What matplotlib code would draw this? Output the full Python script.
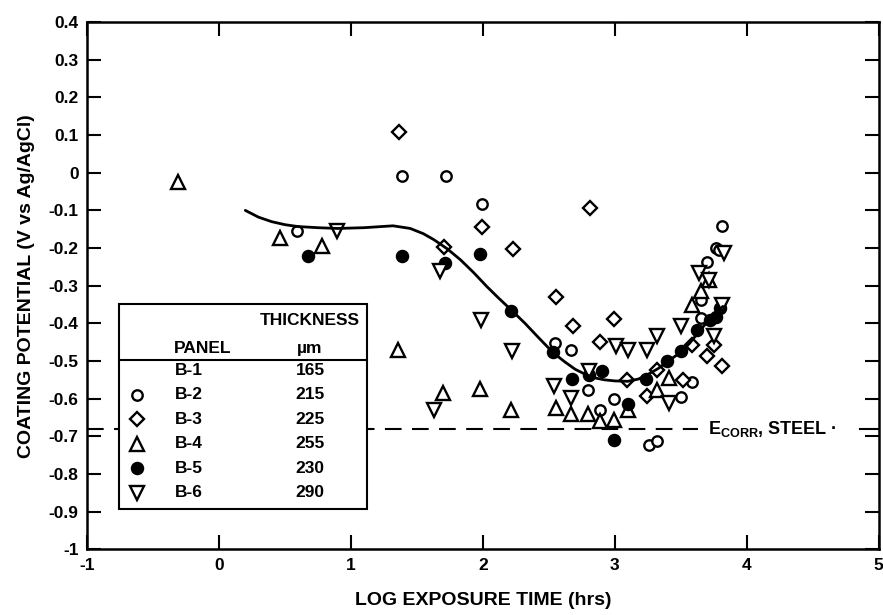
import matplotlib.pyplot as plt
from matplotlib.patches import Rectangle

plt.rcParams['font.family'] = ['Liberation Sans', 'DejaVu Sans']
plt.rcParams['font.weight'] = 'bold'
plt.rcParams['mathtext.default'] = 'regular'
plt.rcParams['axes.unicode_minus'] = False

# B-2, open circles
b2_x = [0.59, 1.39, 1.72, 1.995, 2.546, 2.665, 2.80, 2.885, 2.993, 3.259, 3.317,
        3.499, 3.588, 3.651, 3.651, 3.701, 3.765, 3.79, 3.815]
b2_y = [-0.156, -0.008, -0.008, -0.084, -0.452, -0.47, -0.578, -0.631, -0.601, -0.722, -0.713,
        -0.597, -0.556, -0.337, -0.386, -0.236, -0.2, -0.205, -0.141]

# B-3, open diamonds
b3_x = [1.367, 1.995, 1.703, 2.228, 2.811, 2.558, 2.682, 2.993, 2.885, 3.094, 3.322,
        3.246, 3.519, 3.588, 3.752, 3.701, 3.815]
b3_y = [0.109, -0.143, -0.196, -0.202, -0.094, -0.331, -0.408, -0.388, -0.45, -0.551, -0.523,
        -0.592, -0.55, -0.457, -0.457, -0.486, -0.514]

# B-4, open triangles (up)
b4_x = [-0.307, 0.464, 0.781, 1.36, 1.70, 1.98, 2.214, 2.556, 2.672, 2.796, 2.887,
        2.993, 3.102, 3.41, 3.322, 3.588, 3.651, 3.714]
b4_y = [-0.024, -0.174, -0.194, -0.47, -0.585, -0.575, -0.631, -0.625, -0.64, -0.642, -0.66,
        -0.658, -0.631, -0.545, -0.578, -0.351, -0.315, -0.284]

# B-5, filled circles
b5_x = [0.679, 1.388, 1.711, 1.982, 2.217, 2.531, 2.677, 2.804, 2.9, 2.993, 3.102,
        3.234, 3.398, 3.5, 3.626, 3.72, 3.765, 3.80]
b5_y = [-0.221, -0.222, -0.24, -0.215, -0.366, -0.477, -0.548, -0.538, -0.527, -0.711, -0.614,
        -0.548, -0.501, -0.474, -0.417, -0.39, -0.382, -0.36]

# B-6, open triangles (down)
b6_x = [0.894, 1.673, 1.987, 2.222, 1.63, 2.539, 2.665, 2.804, 3.006, 3.102, 3.246,
        3.317, 3.499, 3.41, 3.638, 3.714, 3.828, 3.815, 3.752]
b6_y = [-0.154, -0.262, -0.39, -0.474, -0.63, -0.566, -0.598, -0.527, -0.461, -0.47, -0.47,
        -0.435, -0.408, -0.611, -0.267, -0.284, -0.214, -0.351, -0.435]

# trend curve through all panels
fit_x = [0.2, 0.3, 0.4, 0.5, 0.6, 0.75, 0.9, 1.1, 1.32, 1.45, 1.55, 1.63, 1.73, 1.83, 1.93,
         2.03, 2.12, 2.22, 2.32, 2.42, 2.53, 2.62, 2.7, 2.78, 2.85, 2.92, 3.0, 3.1, 3.18,
         3.25, 3.33, 3.4, 3.46, 3.51, 3.57, 3.63, 3.68, 3.72, 3.77, 3.82]
fit_y = [-0.10, -0.118, -0.13, -0.138, -0.143, -0.146, -0.148, -0.146, -0.141, -0.148, -0.162,
         -0.178, -0.202, -0.231, -0.265, -0.302, -0.333, -0.366, -0.400, -0.437, -0.477, -0.502,
         -0.522, -0.536, -0.545, -0.55, -0.553, -0.554, -0.548, -0.536, -0.52, -0.501, -0.487,
         -0.474, -0.452, -0.426, -0.405, -0.39, -0.372, -0.355]

e_corr = -0.68

panels = ['B-1', 'B-2', 'B-3', 'B-4', 'B-5', 'B-6']
thickness = ['165', '215', '225', '255', '230', '290']

fig = plt.figure(figsize=(8.83, 6.15), dpi=100)
ax = fig.add_axes([0.0985, 0.107, 0.8965, 0.857])

mk = dict(linestyle='none', color='black', markeredgewidth=1.7)
ax.plot(b2_x, b2_y, marker='o', markersize=7.5, markerfacecolor='white', **mk)
ax.plot(b3_x, b3_y, marker='D', markersize=7.5, markerfacecolor='white', **mk)
ax.plot(b4_x, b4_y, marker='^', markersize=9.5, markerfacecolor='white', **mk)
ax.plot(b5_x, b5_y, marker='o', markersize=8, markerfacecolor='black', **mk)
ax.plot(b6_x, b6_y, marker='v', markersize=9.5, markerfacecolor='white', **mk)

ax.plot(fit_x, fit_y, color='black', linewidth=2.0, solid_capstyle='round')

# corrosion potential of bare steel
ax.plot([-1, 3.63], [e_corr, e_corr], color='black', lw=1.5, dashes=(8, 5))
ax.plot([4.86, 5], [e_corr, e_corr], color='black', lw=1.5)
ax.text(3.71, e_corr, r'E$_{CORR}$, STEEL ·', fontsize=13, fontweight='bold',
        va='center', ha='left')

ax.set_xlim(-1, 5)
ax.set_ylim(-1, 0.4)
ax.set_xticks(range(-1, 6))
ax.set_yticks([i / 10 for i in range(-10, 5)])
ax.set_yticklabels(['-1', '-0.9', '-0.8', '-0.7', '-0.6', '-0.5', '-0.4', '-0.3', '-0.2',
                    '-0.1', '0', '0.1', '0.2', '0.3', '0.4'])
ax.tick_params(direction='in', length=10, width=1.5, top=True, right=True,
               labelsize=12.5, pad=6)
for lab in ax.get_xticklabels() + ax.get_yticklabels():
    lab.set_fontweight('bold')
for sp in ax.spines.values():
    sp.set_linewidth(1.8)

ax.set_xlabel('LOG EXPOSURE TIME (hrs)', fontsize=14, fontweight='bold', labelpad=14)
ax.set_ylabel('COATING POTENTIAL (V vs Ag/AgCl)', fontsize=14, fontweight='bold', labelpad=10)

# legend table
lx0, lx1 = -0.755, 1.124
ly0, ly1 = -0.894, -0.348
ax.add_patch(Rectangle((lx0, ly0), lx1 - lx0, ly1 - ly0, fill=True, facecolor='white',
                       edgecolor='black', lw=1.5, zorder=5))
ax.plot([lx0, lx1], [-0.497, -0.497], color='black', lw=1.5, zorder=6)
tkw = dict(fontsize=12.5, fontweight='bold', zorder=7, va='center')
ax.text(0.69, -0.392, 'THICKNESS', ha='center', **tkw)
ax.text(-0.12, -0.466, 'PANEL', ha='center', **tkw)
ax.text(0.69, -0.466, 'µm', ha='center', **tkw)
leg_marks = [None,
             dict(marker='o', markersize=7.5, markerfacecolor='white'),
             dict(marker='D', markersize=7.5, markerfacecolor='white'),
             dict(marker='^', markersize=9.5, markerfacecolor='white'),
             dict(marker='o', markersize=8, markerfacecolor='black'),
             dict(marker='v', markersize=9.5, markerfacecolor='white')]
for i, (p, t) in enumerate(zip(panels, thickness)):
    yy = -0.525 - i * 0.065
    ax.text(-0.33, yy, p, ha='left', **tkw)
    ax.text(0.69, yy, t, ha='center', **tkw)
    if leg_marks[i]:
        ax.plot([-0.62], [yy], linestyle='none', color='black', markeredgewidth=1.7,
                zorder=7, **leg_marks[i])

fig.savefig('out.png', dpi=100)
